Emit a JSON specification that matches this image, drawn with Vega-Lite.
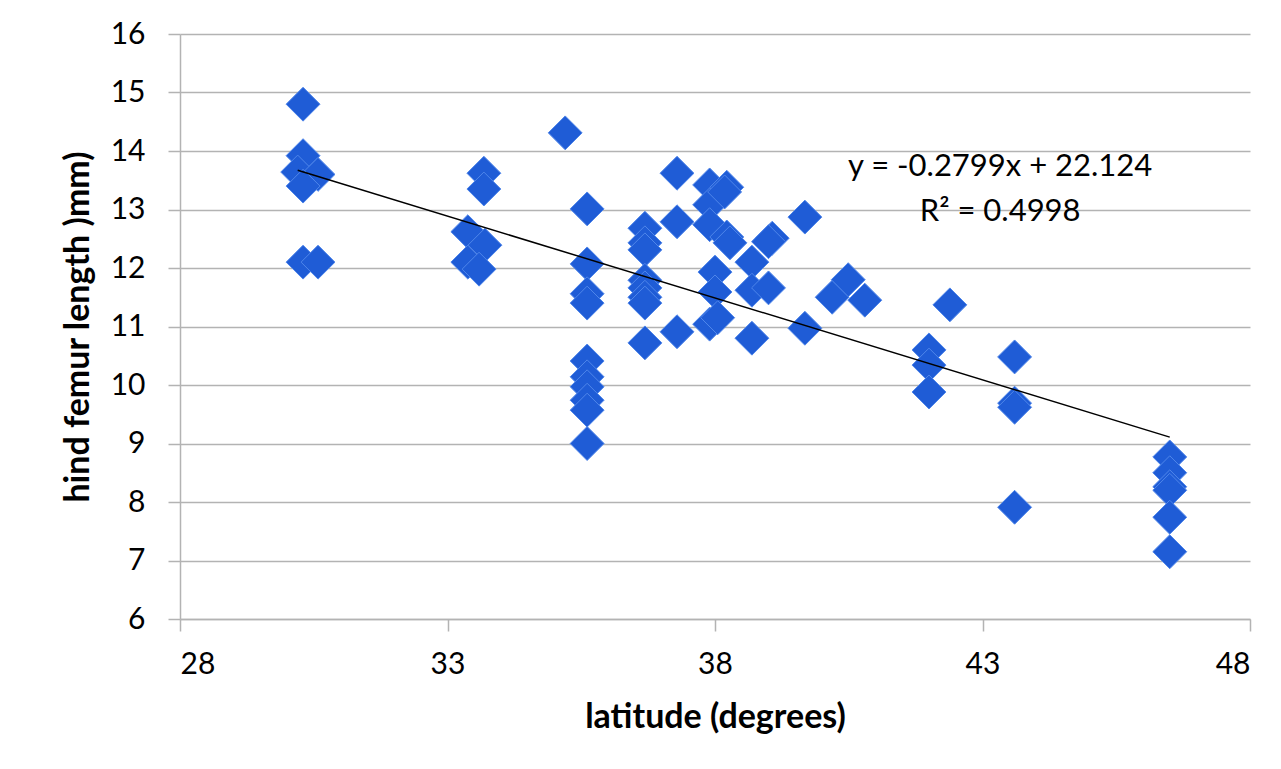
{
  "$schema": "https://vega.github.io/schema/vega-lite/v6.json",
  "width": 1070,
  "height": 585,
  "autosize": "none",
  "padding": {"left": 180, "top": 34, "right": 31, "bottom": 150},
  "background": "white",
  "config": {
    "view": {"stroke": null},
    "font": "Lato",
    "axis": {
      "labelFont": "Lato",
      "labelFontSize": 30,
      "labelColor": "#000000",
      "titleFont": "Lato",
      "titleFontSize": 34,
      "titleFontWeight": "bold",
      "titleColor": "#000000",
      "gridColor": "#b3b3b3",
      "gridWidth": 1.5,
      "domainColor": "#b3b3b3",
      "domainWidth": 1.5,
      "tickColor": "#b3b3b3",
      "tickWidth": 1.5,
      "tickSize": 12
    }
  },
  "datasets": {
    "pts": [
      {"lat": 30.3, "femur": 14.8}, {"lat": 30.3, "femur": 13.92}, {"lat": 30.2, "femur": 13.64}, {"lat": 30.58, "femur": 13.6}, {"lat": 30.3, "femur": 13.4}, {"lat": 30.3, "femur": 12.1}, {"lat": 30.58, "femur": 12.1},
      {"lat": 33.68, "femur": 13.62}, {"lat": 33.68, "femur": 13.35}, {"lat": 33.38, "femur": 12.62}, {"lat": 33.7, "femur": 12.39}, {"lat": 33.38, "femur": 12.1}, {"lat": 33.59, "femur": 11.98},
      {"lat": 35.2, "femur": 14.31},
      {"lat": 35.61, "femur": 13.01}, {"lat": 35.61, "femur": 12.07}, {"lat": 35.61, "femur": 11.56}, {"lat": 35.61, "femur": 11.4}, {"lat": 35.61, "femur": 10.41}, {"lat": 35.61, "femur": 10.14}, {"lat": 35.61, "femur": 9.97}, {"lat": 35.61, "femur": 9.74}, {"lat": 35.61, "femur": 9.57}, {"lat": 35.61, "femur": 9.0},
      {"lat": 36.69, "femur": 12.68}, {"lat": 36.69, "femur": 12.43}, {"lat": 36.69, "femur": 12.31}, {"lat": 36.69, "femur": 11.79}, {"lat": 36.69, "femur": 11.66}, {"lat": 36.69, "femur": 11.5}, {"lat": 36.69, "femur": 11.4}, {"lat": 36.69, "femur": 10.72},
      {"lat": 37.29, "femur": 13.62}, {"lat": 37.29, "femur": 12.79}, {"lat": 37.29, "femur": 10.91},
      {"lat": 37.9, "femur": 13.42}, {"lat": 37.9, "femur": 13.08}, {"lat": 37.9, "femur": 12.74}, {"lat": 37.9, "femur": 11.04}, {"lat": 38.0, "femur": 11.93}, {"lat": 38.0, "femur": 11.59}, {"lat": 38.05, "femur": 11.15},
      {"lat": 38.22, "femur": 13.38}, {"lat": 38.18, "femur": 13.3}, {"lat": 38.22, "femur": 12.53}, {"lat": 38.28, "femur": 12.43},
      {"lat": 38.69, "femur": 12.1}, {"lat": 38.69, "femur": 11.62}, {"lat": 38.69, "femur": 10.8},
      {"lat": 39.07, "femur": 12.51}, {"lat": 39.0, "femur": 12.45}, {"lat": 39.0, "femur": 11.66},
      {"lat": 39.68, "femur": 12.87}, {"lat": 39.68, "femur": 10.97},
      {"lat": 40.19, "femur": 11.5}, {"lat": 40.49, "femur": 11.8}, {"lat": 40.8, "femur": 11.45},
      {"lat": 42.0, "femur": 10.6}, {"lat": 42.0, "femur": 10.34}, {"lat": 42.0, "femur": 9.88},
      {"lat": 42.39, "femur": 11.37},
      {"lat": 43.6, "femur": 10.48}, {"lat": 43.6, "femur": 9.69}, {"lat": 43.6, "femur": 9.62}, {"lat": 43.6, "femur": 7.91},
      {"lat": 46.5, "femur": 8.77}, {"lat": 46.5, "femur": 8.5}, {"lat": 46.5, "femur": 8.26}, {"lat": 46.5, "femur": 8.2}, {"lat": 46.5, "femur": 7.74}, {"lat": 46.5, "femur": 7.15}
    ],
    "trend": [
      {"lat": 30.2, "femur": 13.671},
      {"lat": 46.5, "femur": 9.109}
    ],
    "labels": [
      {"lat": 43.33, "femur": 13.73, "text": "y = -0.2799x + 22.124"},
      {"lat": 43.33, "femur": 12.96, "text": "R² = 0.4998"}
    ]
  },
  "layer": [
    {
      "data": {"name": "pts"},
      "mark": {"type": "point", "shape": "diamond", "filled": true, "size": 1150, "fill": "#1f5cd6", "stroke": "#4f86ea", "strokeWidth": 1, "opacity": 1},
      "encoding": {
        "x": {"field": "lat", "type": "quantitative", "scale": {"domain": [28, 48], "nice": false, "zero": false},
          "axis": {"values": [28, 33, 38, 43, 48], "format": "d", "title": "latitude (degrees)", "grid": false, "labelPadding": 18, "titlePadding": 21}},
        "y": {"field": "femur", "type": "quantitative", "scale": {"domain": [6, 16], "nice": false, "zero": false},
          "axis": {"values": [6, 7, 8, 9, 10, 11, 12, 13, 14, 15, 16], "format": "d", "title": "hind femur length )mm)", "grid": true, "labelPadding": 23, "titlePadding": 15}}
      }
    },
    {
      "data": {"name": "trend"},
      "mark": {"type": "line", "color": "#000000", "strokeWidth": 1.5},
      "encoding": {
        "x": {"field": "lat", "type": "quantitative"},
        "y": {"field": "femur", "type": "quantitative"}
      }
    },
    {
      "data": {"name": "labels"},
      "mark": {"type": "text", "font": "Lato", "fontSize": 31, "color": "#000000", "align": "center", "baseline": "middle"},
      "encoding": {
        "x": {"field": "lat", "type": "quantitative"},
        "y": {"field": "femur", "type": "quantitative"},
        "text": {"field": "text", "type": "nominal"}
      }
    }
  ]
}
